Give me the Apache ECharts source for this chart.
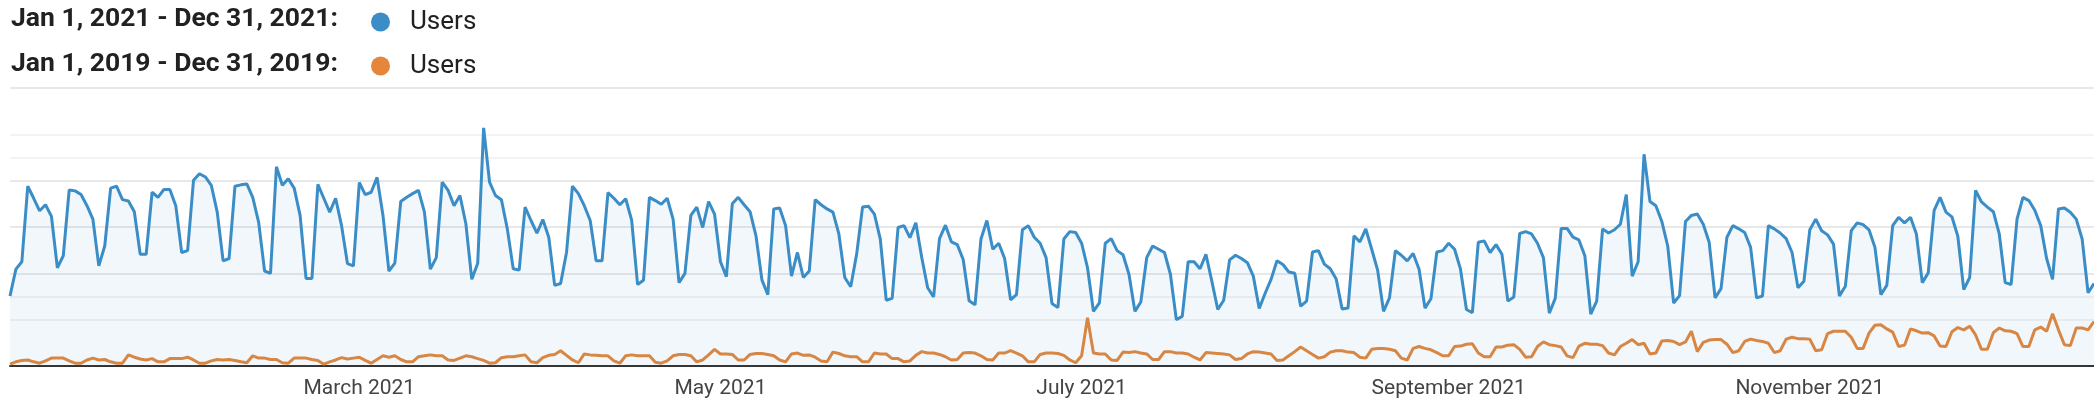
<!DOCTYPE html>
<html>
<head>
<meta charset="utf-8">
<script src="https://cdn.jsdelivr.net/npm/echarts@6/dist/echarts.min.js"></script>
<style>
html,body{margin:0;padding:0;background:#fff;}
#chart{width:2094px;height:406px;}
</style>
</head>
<body>
<div id="chart"></div>
<script>
// Visible range: Jan 1 - Dec 19 (day index 0..352)
const startDate = '2021-01-01';
const dayCount = 353;
const seriesNames = ['Jan 1, 2021 - Dec 31, 2021:', 'Jan 1, 2019 - Dec 31, 2019:'];
const metricName = 'Users';
const tickLabels = ['March 2021', 'May 2021', 'July 2021', 'September 2021', 'November 2021'];
const tickMonths = [3, 5, 7, 9, 11];

const users2021 = [
151,209,225,388,362,335,348,323,212,238,380,378,370,346,317,216,259,384,388,359,
356,333,241,241,375,364,381,381,346,245,249,401,415,408,390,332,227,232,388,391,
393,364,310,205,200,430,390,404,384,325,189,189,392,362,332,362,303,221,216,396,
370,375,407,325,205,222,355,364,372,379,332,209,234,397,379,346,368,307,187,222,
514,397,368,359,296,210,207,343,314,287,316,278,174,178,245,388,372,346,314,227,
227,374,362,348,361,315,176,185,364,357,349,362,317,180,200,325,343,299,355,328,
225,193,350,364,348,333,281,186,154,339,341,303,194,245,191,205,359,348,339,332,
285,191,171,241,343,345,328,274,142,146,299,303,277,309,234,169,149,275,304,268,
262,230,141,132,274,314,252,265,232,143,154,294,303,278,265,234,135,126,274,290,
288,265,212,118,136,265,275,249,240,198,118,138,234,259,252,245,198,100,107,225,
225,210,241,183,122,142,229,239,232,223,194,124,157,187,227,219,203,200,129,140,
246,249,220,210,188,123,125,281,268,296,252,207,118,147,249,239,227,243,209,125,
145,246,249,265,252,209,122,115,267,270,245,262,241,140,149,286,290,285,265,234,
114,146,297,297,278,272,238,112,140,296,287,294,306,370,194,225,457,355,346,312,
259,136,152,312,325,328,306,267,147,167,278,303,296,288,256,147,151,303,296,287,
275,245,169,183,294,317,292,283,263,151,172,292,309,305,294,256,154,174,303,321,
309,321,285,180,201,336,364,332,322,280,165,191,379,354,343,333,285,180,176,317,
364,357,336,303,232,187,339,341,332,317,274,158,178
];

const users2019 = [
4,9,12,13,9,6,11,17,17,17,11,6,6,13,17,13,14,9,6,6,
24,19,15,13,16,9,9,16,16,16,19,13,6,6,11,14,13,14,12,9,
7,22,17,17,14,14,7,6,17,17,17,14,12,4,9,13,18,15,17,19,
12,6,14,22,19,22,14,9,9,20,22,24,22,22,13,12,17,22,20,16,
12,6,7,18,20,20,22,24,9,7,18,23,25,33,23,13,7,26,24,23,
22,22,11,6,22,24,22,22,22,8,6,11,22,25,25,22,9,13,24,36,
26,26,25,13,13,25,27,27,25,22,13,9,26,28,23,24,19,11,9,30,
27,22,20,20,9,9,28,26,26,16,16,9,11,23,31,28,28,25,20,13,
14,28,29,28,22,14,13,28,28,33,28,22,9,9,25,28,28,27,23,13,
7,22,104,28,26,26,13,12,30,29,31,28,26,14,14,31,31,28,28,26,
19,13,29,28,27,26,24,14,16,26,31,30,28,26,12,13,22,31,41,33,
25,17,20,30,33,33,30,29,19,17,36,38,38,36,33,17,13,38,42,38,
35,29,22,22,42,43,47,48,28,20,20,41,41,45,46,36,19,20,42,52,
46,44,41,22,18,43,49,47,47,44,28,24,42,49,57,46,49,26,28,54,
55,53,46,52,75,31,51,56,57,57,47,29,33,53,58,55,53,49,29,33,
58,62,59,59,58,33,35,70,75,75,75,62,38,38,71,88,89,80,73,42,
45,80,76,71,72,65,43,42,74,83,78,86,67,36,36,72,82,76,75,70,
42,42,78,84,75,113,78,46,44,82,82,78,96
];

const categories = [];
(function(){
  const d0 = new Date(startDate + 'T00:00:00Z');
  for (let i = 0; i < dayCount; i++) {
    const d = new Date(d0.getTime() + i * 86400000);
    const m = String(d.getUTCMonth() + 1).padStart(2, '0');
    const dd = String(d.getUTCDate()).padStart(2, '0');
    categories.push(d.getUTCFullYear() + '-' + m + '-' + dd);
  }
})();

function isTick(value) {
  const parts = value.split('-');
  return parts[2] === '01' && tickMonths.indexOf(parseInt(parts[1], 10)) >= 0;
}
function tickText(value) {
  const parts = value.split('-');
  const idx = tickMonths.indexOf(parseInt(parts[1], 10));
  return idx >= 0 ? tickLabels[idx] : '';
}

const BLUE = '#3a8dc6';
const ORANGE = '#e5863a';
const MAJOR = '#e8e8e8';
const FAINT = '#f3f3f3';
const NONE = 'rgba(0,0,0,0)';

const chart = echarts.init(document.getElementById('chart'), null, {renderer: 'canvas'});
chart.setOption({
  animation: false,
  backgroundColor: '#fff',
  grid: {left: 10, right: 0, top: 88, bottom: 40, containLabel: false},
  graphic: [
    {type: 'text', x: 11, y: 19, style: {text: seriesNames[0], font: 'bold 26.5px Roboto', fill: '#212121', verticalAlign: 'middle', textVerticalAlign: 'middle'}},
    {type: 'text', x: 11, y: 64, style: {text: seriesNames[1], font: 'bold 26.5px Roboto', fill: '#212121', verticalAlign: 'middle', textVerticalAlign: 'middle'}}
  ],
  legend: [
    {data: [seriesNames[0]], left: 371, top: 9, padding: 0, icon: 'circle', itemWidth: 19, itemHeight: 19,
     formatter: () => metricName, selectedMode: false,
     textStyle: {fontFamily: 'Roboto', fontSize: 26, color: '#212121', padding: [0, 0, 0, 15]}},
    {data: [seriesNames[1]], left: 371, top: 53, padding: 0, icon: 'circle', itemWidth: 19, itemHeight: 19,
     formatter: () => metricName, selectedMode: false,
     textStyle: {fontFamily: 'Roboto', fontSize: 26, color: '#212121', padding: [0, 0, 0, 15]}}
  ],
  xAxis: {
    type: 'category',
    data: categories,
    boundaryGap: false,
    axisLine: {show: true, lineStyle: {color: '#333', width: 2}},
    axisTick: {show: false},
    splitLine: {show: false},
    axisLabel: {
      interval: (i, v) => isTick(v),
      formatter: v => tickText(v),
      fontFamily: 'Roboto', fontSize: 21, color: '#444', margin: 12
    }
  },
  yAxis: {
    type: 'value', min: 0, max: 600, interval: 50,
    axisLine: {show: false}, axisTick: {show: false}, axisLabel: {show: false},
    splitLine: {show: true, lineStyle: {width: 2, color: [NONE, NONE, FAINT, FAINT, MAJOR, NONE, MAJOR, NONE, MAJOR, FAINT, FAINT, NONE, MAJOR]}}
  },
  series: [
    {
      name: seriesNames[0], type: 'line', data: users2021, showSymbol: false, symbol: 'circle',
      color: BLUE, lineStyle: {color: BLUE, width: 3}, areaStyle: {color: 'rgba(58,141,198,0.1)'}, z: 3
    },
    {
      name: seriesNames[1], type: 'line', data: users2019, showSymbol: false, symbol: 'circle',
      color: ORANGE, lineStyle: {color: ORANGE, width: 3}, z: 2
    }
  ]
});
</script>
</body>
</html>
